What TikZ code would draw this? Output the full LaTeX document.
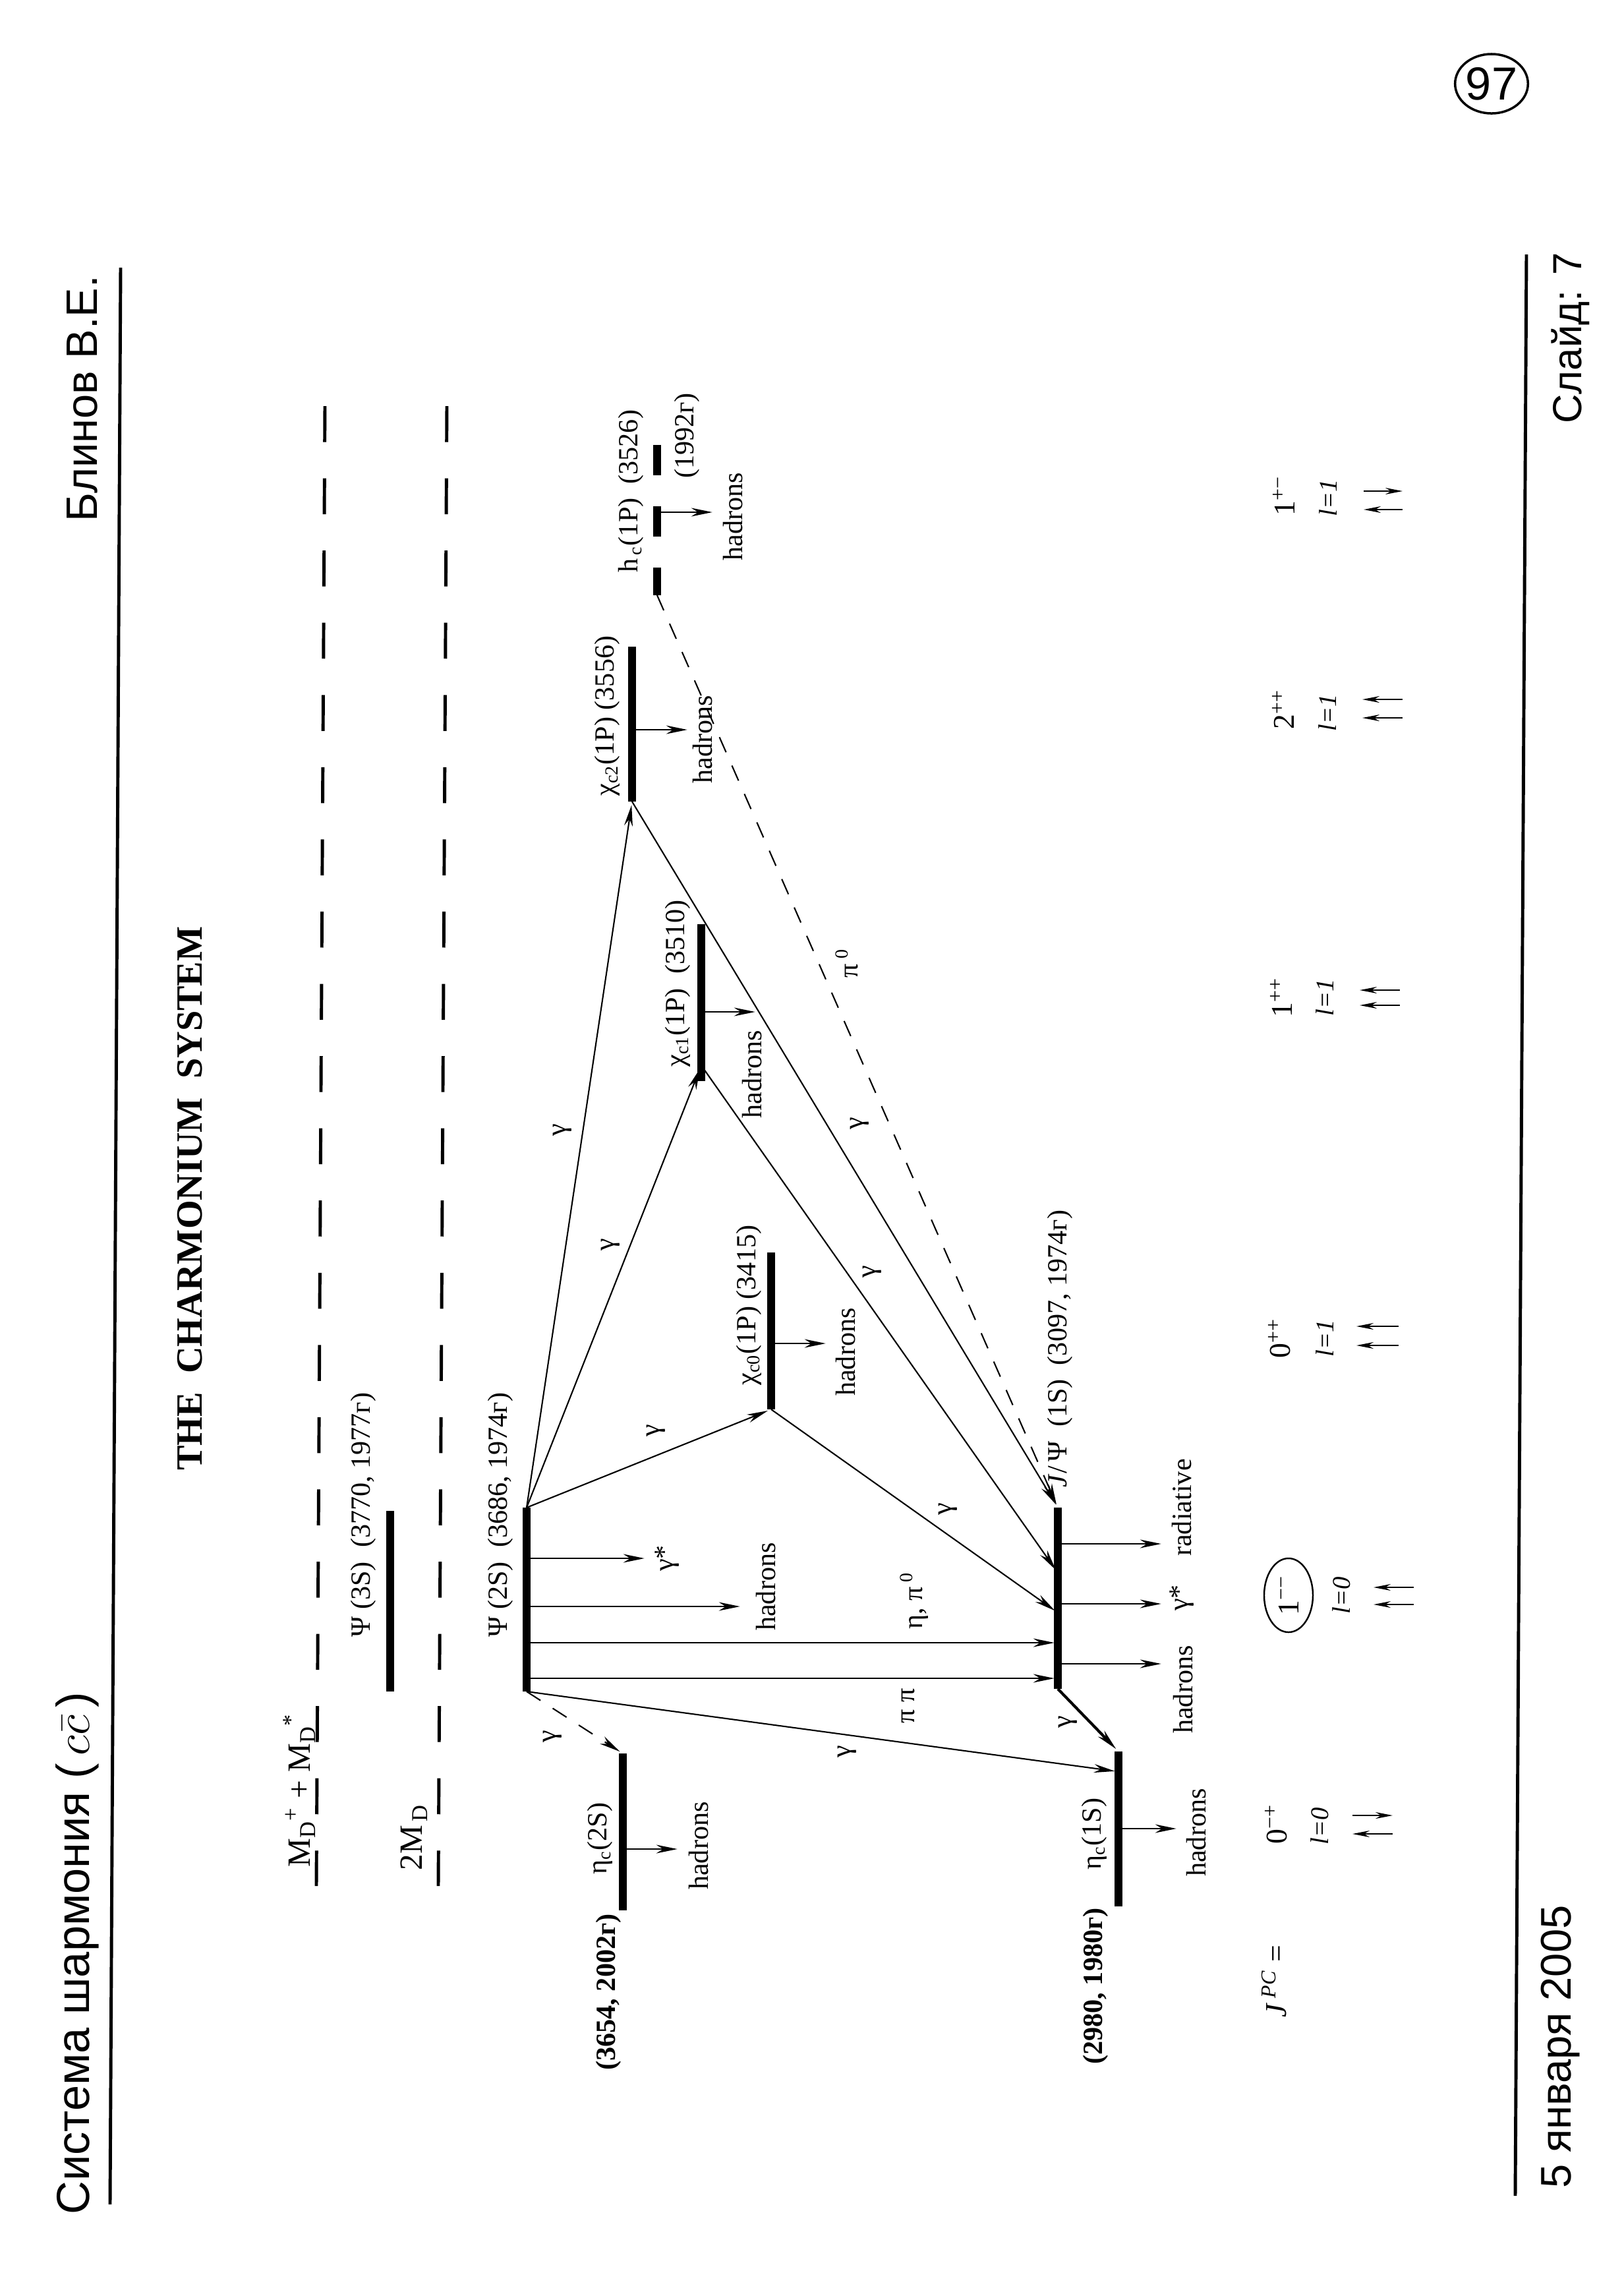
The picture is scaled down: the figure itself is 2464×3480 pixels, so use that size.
\documentclass[tikz,border=0pt]{standalone}
\usepackage{fontspec}
\setmainfont{Liberation Serif}
\newfontfamily\hdr{Liberation Sans}
\usetikzlibrary{arrows.meta,calc,shapes.geometric}

\begin{document}
\begin{tikzpicture}[x=0.01cm,y=-0.01cm,line join=round,
  lev/.style={line width=3.4pt},
  tr/.style={line width=0.6pt,shorten >=1.5pt,-{Stealth[length=0.32cm,width=0.13cm]}},
  dsh/.style={tr,dash pattern=on 0.25cm off 0.22cm},
  spin/.style={line width=0.6pt,-{Stealth[length=0.26cm,width=0.1cm]}},
  thr/.style={line width=1.4pt,dash pattern=on 0.545cm off 0.55cm},
  rul/.style={line width=1.4pt},
  lab/.style={rotate=90,inner sep=0pt,font=\fontsize{12}{14}\selectfont},
  big/.style={rotate=90,inner sep=0pt,font=\hdr\fontsize{20}{24}\selectfont}]
\fill[white] (0,0) rectangle (2464,3480);
\useasboundingbox (0,0) rectangle (2464,3480);
% slide frame
\coordinate (R1a) at (183,406); \coordinate (R1b) at (167,3344);
\coordinate (R2a) at (2316,386); \coordinate (R2b) at (2299,3331);
\draw[rul] (R1a)--(R1b) (R2a)--(R2b);
\node[big] (head) at (117,2963) {Система шармония (\,$c\bar{c}$\,)};
\node[big,font=\hdr\fontsize{19}{22}\selectfont] (auth) at (125,605) {Блинов В.Е.};
\node[big,font=\hdr\fontsize{18.5}{22}\selectfont] (date) at (2368,3105) {5 января 2005};
\node[big,font=\hdr\fontsize{17.5}{21}\selectfont] (slide) at (2383,513) {Слайд: 7};
\node[draw,ellipse,line width=1pt,minimum width=1.1cm,minimum height=0.9cm,inner sep=0pt,font=\hdr\fontsize{20}{24}\selectfont] (pg) at (2263,127) {97};
\node[rotate=90,inner sep=0pt,font=\bfseries\fontsize{16}{19}\selectfont] (title) at (288,1818) {THE\ \ CHARMONIUM\ \ SYSTEM};
% thresholds
\coordinate (T1a) at (493,616); \coordinate (T1b) at (480,2861);
\coordinate (T2a) at (678,616); \coordinate (T2b) at (665,2861);
\draw[thr] (T1a)--(T1b) (T2a)--(T2b);
\node[lab,font=\fontsize{14}{16}\selectfont] (MDD) at (454,2716) {M\textsubscript{D}\textsuperscript{+} + M\textsubscript{D}\textsuperscript{*}};
\node[lab,font=\fontsize{14}{16}\selectfont] (MD) at (628,2787) {2M\textsubscript{\,D}};
% levels
\coordinate (P3a) at (592,2292); \coordinate (P3b) at (592,2566);
\coordinate (P2a) at (799,2287); \coordinate (P2b) at (799,2566);
\coordinate (E2a) at (945,2660); \coordinate (E2b) at (945,2898);
\coordinate (Ja) at (1605,2287); \coordinate (Jb) at (1605,2562);
\coordinate (E1a) at (1697,2657); \coordinate (E1b) at (1697,2892);
\coordinate (C0a) at (1170,1900); \coordinate (C0b) at (1170,2138);
\coordinate (C1a) at (1064,1402); \coordinate (C1b) at (1064,1640);
\coordinate (C2a) at (959,981); \coordinate (C2b) at (959,1216);
\coordinate (Ha) at (997,675); \coordinate (Hb) at (997,903);
\coordinate (C1g) at ($(C1a)!0.9!(C1b)$);
\coordinate (Jc0) at ($(Ja)!0.58!(Jb)$);
\coordinate (Jc1) at ($(Ja)!0.36!(Jb)$);
\coordinate (E1g) at ($(E1a)!0.13!(E1b)$);
\draw[lev] (P3a)--(P3b) (P2a)--(P2b) (E2a)--(E2b) (Ja)--(Jb) (E1a)--(E1b) (C0a)--(C0b) (C1a)--(C1b) (C2a)--(C2b);
\draw[lev,dash pattern=on 0.46cm off 0.47cm] (Ha)--(Hb);
% transitions
\foreach \a/\b in {P2a/C0b,P2a/C1g,P2a/C2b,C0b/Jc0,C1g/Jc1,C2b/Ja,P2b/E1g}
  \draw[tr] (\a)--(\b);
\draw[dsh] (Hb)--(Ja);
\draw[dsh] (P2b)--(E2a);
\draw[tr,line width=1.2pt] (Jb)--(E1a);
% decays
\foreach \n/\x/\y in {P2s1/799/2364,g1e/983/2364,P2s2/799/2437,h2e/1128/2437,P2s3/799/2492,J3/1605/2492,P2s4/799/2546,J4/1605/2546,
  Jo1/1605/2342,Jo1e/1767/2342,Jo2/1605/2433,Jo2e/1767/2433,Jo3/1605/2524,Jo3e/1767/2524,E1h/1697/2774,E1he/1790/2774,
  E2h/945/2805,E2he/1033/2805,C0h/1170/2038,C0he/1258/2038,C1h/1064/1535,C1he/1151/1535,C2h/959/1107,C2he/1048/1107,Hh/997/777,Hhe/1086/777}
  \coordinate (\n) at (\x,\y);
\foreach \a/\b in {P2s1/g1e,P2s2/h2e,P2s3/J3,P2s4/J4,Jo1/Jo1e,Jo2/Jo2e,Jo3/Jo3e,E1h/E1he,E2h/E2he,C0h/C0he,C1h/C1he,C2h/C2he,Hh/Hhe}
  \draw[tr] (\a)--(\b);
% labels
\foreach \n/\x/\y/\t in {lP3/551/2298/{Ψ (3S)\ \ (3770, 1977г)},lP2/759/2298/{Ψ (2S)\ \ (3686, 1974г)},
  lE2/910/2789/{η\textsubscript{c}(2S)},lE1/1660/2782/{η\textsubscript{c}(1S)},
  lC0/1136/1980/{χ\textsubscript{c0}(1P) (3415)},lC1/1028/1492/{χ\textsubscript{c1}(1P)\ \ (3510)},
  lC2/921/1086/{χ\textsubscript{c2}(1P) (3556)},lH/957/745/{h\textsubscript{\,c}(1P)\ \ (3526)},lHy/1042/661/{(1992г)},
  lJ/1608/2046/{\textit{J}/\,Ψ\ \ (1S)\ \ (3097, 1974г)},
  hE2/1060/2800/hadrons,hP2/1162/2407/hadrons,hC0/1283/2051/hadrons,hC1/1141/1630/hadrons,
  hC2/1066/1122/hadrons,hH/1112/784/hadrons,hJ/1795/2563/hadrons,hE1/1815/2780/hadrons,
  gsP/1012/2364/{γ*},gsJ/1793/2424/{γ*},rJ/1793/2287/radiative,
  g1/838/2634/γ,g2/1285/2657/γ,g3/1620/2612/γ,g4/995/2170/γ,g5/926/1888/γ,g6/853/1714/γ,
  g7/1438/2289/γ,g8/1323/1929/γ,g9/1304/1704/γ,pp/1378/2588/{π π},ep/1387/2428/{η, π\,\textsuperscript{0}},
  p0/1285/1461/{π\,\textsuperscript{0}},
  b1/923/3022/{\bfseries (3654, 2002г)},b2/1662/3013/{\bfseries (2980, 1980г)}}
  \node[lab] (\n) at (\x,\y) {\t};
% J^PC row
\foreach \n/\x/\y/\t in {jpc/1933/3006/{\textit{J}\,\textsuperscript{\textit{PC}}\ =},q1/1936/2767/{0\textsuperscript{−+}},
  q3/1941/2030/{0\textsuperscript{++}},q4/1944/1513/{1\textsuperscript{++}},q5/1947/1076/{2\textsuperscript{++}},q6/1948/752/{1\textsuperscript{+−}}}
  \node[lab,font=\fontsize{13}{15}\selectfont] (\n) at (\x,\y) {\t};
\node[lab,font=\fontsize{13}{15}\selectfont,draw,ellipse,line width=0.7pt,minimum width=1.12cm,minimum height=0.74cm] (q2) at (1955,2420) {1\textsuperscript{−−}};
\foreach \n/\x/\y/\t in {l1/2002/2770/0,l2/2035/2420/0,l3/2010/2030/1,l4/2010/1513/1,l5/2014/1081/1,l6/2015/755/1}
  \node[lab,font=\itshape\fontsize{11}{13}\selectfont] (\n) at (\x,\y) {l=\t};
% spins
\foreach \n/\y/\a/\b in {s1/2754/2052/2113,s2/2782/2113/2052,s3/2408/2145/2084,s4/2434/2145/2084,s5/2012/2122/2058,s6/2041/2122/2058,
  s7/1502/2124/2063,s8/1525/2124/2063,s9/1061/2128/2067,s10/1089/2128/2067,s11/745/2069/2128,s12/773/2128/2069}
  {\coordinate (\n a) at (\a,\y); \coordinate (\n b) at (\b,\y); \draw[spin] (\n a)--(\n b);}
\end{tikzpicture}
\end{document}
